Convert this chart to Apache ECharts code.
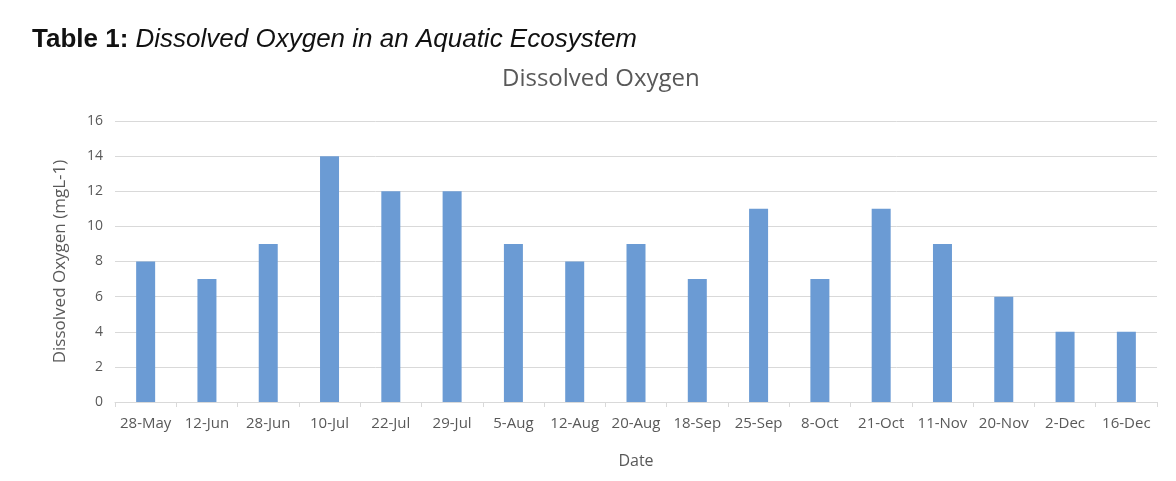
<!DOCTYPE html>
<html><head><meta charset="utf-8">
<script src="https://cdn.jsdelivr.net/npm/echarts@6/dist/echarts.min.js"></script>
<style>html,body{margin:0;padding:0;background:#fff;}#c{width:1176px;height:481px;}</style>
</head><body><div id="c"></div>
<script>
const categories = ['28-May','12-Jun','28-Jun','10-Jul','22-Jul','29-Jul','5-Aug','12-Aug','20-Aug','18-Sep','25-Sep','8-Oct','21-Oct','11-Nov','20-Nov','2-Dec','16-Dec'];
const oxygenValues = [8,7,9,14,12,12,9,8,9,7,11,7,11,9,6,4,4];
const yTicks = {min:0, max:16, interval:2};

const chart = echarts.init(document.getElementById('c'));
chart.setOption({
  animation:false,
  backgroundColor:'#fff',
  title:[{
    text:'{b|Table 1: }{i|Dissolved Oxygen in an Aquatic Ecosystem}',
    left:27, top:22,
    textStyle:{rich:{
      b:{fontFamily:'Liberation Sans',fontWeight:'bold',fontSize:26,color:'#111'},
      i:{fontFamily:'Liberation Sans',fontStyle:'italic',fontWeight:'normal',fontSize:26,color:'#111'}
    }}
  },{
    text:'Dissolved Oxygen',
    left:497, top:62,
    textStyle:{fontFamily:'Open Sans',fontWeight:'normal',fontSize:24,color:'#595959'}
  }],
  grid:{left:115,right:19,top:121,bottom:79},
  xAxis:{
    type:'category', data:categories,
    name:'Date', nameLocation:'middle', nameGap:51,
    nameTextStyle:{fontFamily:'Open Sans',fontSize:16,color:'#595959'},
    axisLine:{lineStyle:{color:'#d9d9d9'}},
    axisTick:{show:true,lineStyle:{color:'#d9d9d9'},length:5},
    axisLabel:{fontFamily:'Open Sans',fontSize:15,color:'#595959',margin:14,interval:0}
  },
  yAxis:{
    type:'value', min:yTicks.min, max:yTicks.max, interval:yTicks.interval,
    name:'Dissolved Oxygen (mgL-1)', nameLocation:'middle', nameGap:46,
    nameTextStyle:{fontFamily:'Open Sans',fontSize:17,color:'#595959'},
    axisLine:{show:false}, axisTick:{show:false},
    splitLine:{lineStyle:{color:'#d9d9d9'}},
    axisLabel:{fontFamily:'Open Sans',fontSize:14,color:'#595959',margin:12}
  },
  series:[{
    type:'bar', data:oxygenValues, barWidth:'31%',
    itemStyle:{color:'#6b9bd4'}
  }]
});
</script></body></html>
